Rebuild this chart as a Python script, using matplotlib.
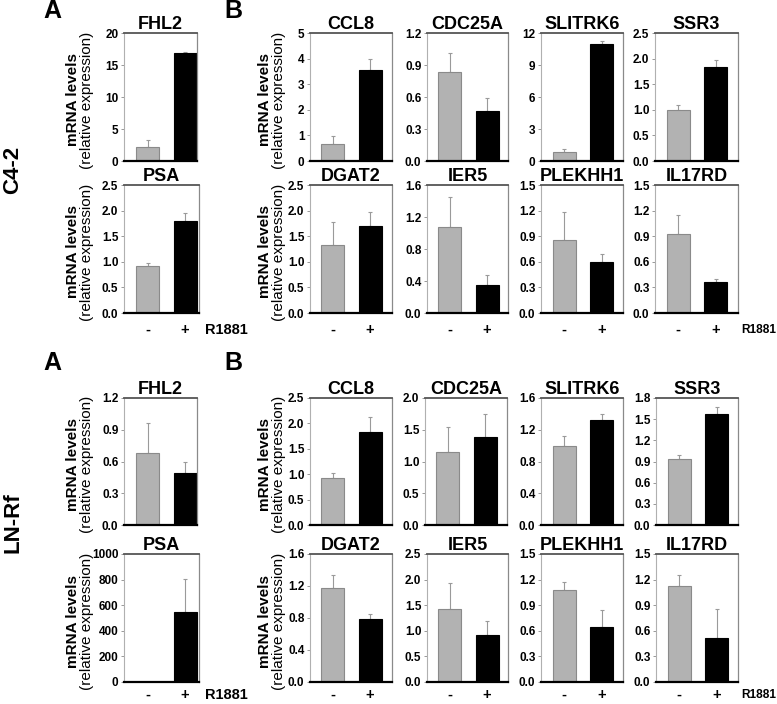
import matplotlib
matplotlib.use("Agg")
import matplotlib.pyplot as plt
from matplotlib.transforms import blended_transform_factory

plt.rcParams['font.family'] = ['Liberation Sans', 'DejaVu Sans']

W, H = 777, 704

# ---------------- data ----------------
genes_row1 = ["FHL2", "CCL8", "CDC25A", "SLITRK6", "SSR3"]
genes_row2 = ["PSA", "DGAT2", "IER5", "PLEKHH1", "IL17RD"]
conditions = ["-", "+"]
treatment_label = "R1881"

# C4-2 cells: means (control, R1881) and upper error
c42_ctrl = {"FHL2": 2.2, "CCL8": 0.68, "CDC25A": 0.83, "SLITRK6": 0.80, "SSR3": 0.99,
            "PSA": 0.91, "DGAT2": 1.32, "IER5": 1.07, "PLEKHH1": 0.85, "IL17RD": 0.925}
c42_r1881 = {"FHL2": 16.8, "CCL8": 3.56, "CDC25A": 0.47, "SLITRK6": 10.97, "SSR3": 1.84,
             "PSA": 1.79, "DGAT2": 1.69, "IER5": 0.355, "PLEKHH1": 0.60, "IL17RD": 0.362}
c42_ctrl_err = {"FHL2": 1.05, "CCL8": 0.30, "CDC25A": 0.18, "SLITRK6": 0.30, "SSR3": 0.10,
                "PSA": 0.07, "DGAT2": 0.45, "IER5": 0.38, "PLEKHH1": 0.33, "IL17RD": 0.225}
c42_r1881_err = {"FHL2": 0.30, "CCL8": 0.43, "CDC25A": 0.125, "SLITRK6": 0.30, "SSR3": 0.14,
                 "PSA": 0.16, "DGAT2": 0.29, "IER5": 0.12, "PLEKHH1": 0.09, "IL17RD": 0.035}

# LN-Rf cells
lnrf_ctrl = {"FHL2": 0.68, "CCL8": 0.93, "CDC25A": 1.15, "SLITRK6": 0.99, "SSR3": 0.93,
             "PSA": 0.0, "DGAT2": 1.175, "IER5": 1.43, "PLEKHH1": 1.08, "IL17RD": 1.125}
lnrf_r1881 = {"FHL2": 0.49, "CCL8": 1.84, "CDC25A": 1.38, "SLITRK6": 1.32, "SSR3": 1.57,
              "PSA": 547, "DGAT2": 0.79, "IER5": 0.92, "PLEKHH1": 0.645, "IL17RD": 0.51}
lnrf_ctrl_err = {"FHL2": 0.285, "CCL8": 0.09, "CDC25A": 0.39, "SLITRK6": 0.13, "SSR3": 0.06,
                 "PSA": 0.0, "DGAT2": 0.165, "IER5": 0.50, "PLEKHH1": 0.09, "IL17RD": 0.125}
lnrf_r1881_err = {"FHL2": 0.105, "CCL8": 0.28, "CDC25A": 0.37, "SLITRK6": 0.08, "SSR3": 0.10,
                  "PSA": 258, "DGAT2": 0.06, "IER5": 0.27, "PLEKHH1": 0.20, "IL17RD": 0.34}

# y-axis ticks: (max, step, decimals)
c42_yticks = {"FHL2": (20, 5, 0), "CCL8": (5, 1, 0), "CDC25A": (1.2, 0.3, 1), "SLITRK6": (12, 3, 0),
              "SSR3": (2.5, 0.5, 1), "PSA": (2.5, 0.5, 1), "DGAT2": (2.5, 0.5, 1), "IER5": (1.6, 0.4, 1),
              "PLEKHH1": (1.5, 0.3, 1), "IL17RD": (1.5, 0.3, 1)}
lnrf_yticks = {"FHL2": (1.2, 0.3, 1), "CCL8": (2.5, 0.5, 1), "CDC25A": (2.0, 0.5, 1), "SLITRK6": (1.6, 0.4, 1),
               "SSR3": (1.8, 0.3, 1), "PSA": (1000, 200, 0), "DGAT2": (1.6, 0.4, 1), "IER5": (2.5, 0.5, 1),
               "PLEKHH1": (1.5, 0.3, 1), "IL17RD": (1.5, 0.3, 1)}

# ---------------- layout (pixels) ----------------
row_tb = [(33, 161), (185, 313), (398, 525), (554, 682)]
cols = [
    [(124, 197), (310, 392), (427, 508), (541, 623), (655, 738)],
    [(124, 199), (310, 392), (427, 508), (541, 623), (655, 738)],
    [(124, 197), (310, 392), (425, 507), (541, 623), (656, 738)],
    [(124, 199), (310, 392), (427, 508), (541, 623), (656, 738)],
]
FIRST_BAR_OFF = [23.5, 22.5, 22.5, 23, 23]
SPACING = 37.5
BAR_PX = 23

fig = plt.figure(figsize=(W / 100, H / 100), dpi=100)


def px_axes(l, r, t, b):
    return fig.add_axes([l / W, 1 - b / H, (r - l) / W, (b - t) / H])


def draw_panel(ax, gene, ctrl, trt, ctrl_err, trt_err, ticks, off, width_px):
    x = [0, 1]
    vals = [ctrl[gene], trt[gene]]
    errs = [ctrl_err[gene], trt_err[gene]]
    bw = BAR_PX / SPACING
    ax.bar(x, vals, width=bw, color=["#b2b2b2", "#000000"],
           edgecolor=["#8a8a8a", "#000000"], linewidth=0.8, zorder=2)
    for xi, v, e in zip(x, vals, errs):
        if e > 0:
            ax.errorbar([xi], [v], yerr=[[0], [e]], fmt='none', ecolor="#9a9a9a",
                        elinewidth=0.8, capsize=1.5, capthick=0.8, zorder=1)
    ymax, step, dec = ticks
    n = int(round(ymax / step))
    tv = [i * step for i in range(n + 1)]
    ax.set_ylim(0, ymax)
    ax.set_yticks(tv)
    ax.set_yticklabels([f"{v:.{dec}f}" for v in tv], fontsize=8.5, fontweight='bold')
    ax.set_xlim(-off / SPACING, (width_px - off) / SPACING)
    ax.set_xticks([])
    ax.tick_params(axis='y', length=2, width=0.6, color="#888888", pad=2)
    ax.spines['top'].set_color("#555555")
    ax.spines['top'].set_linewidth(1.3)
    ax.spines['right'].set_color("#8a8a8a")
    ax.spines['right'].set_linewidth(0.9)
    ax.spines['left'].set_color("#b0b0b0")
    ax.spines['left'].set_linewidth(0.8)
    ax.spines['bottom'].set_color("#000000")
    ax.spines['bottom'].set_linewidth(1.6)
    ax.set_title(gene, fontsize=13, fontweight='bold', pad=2)


groups = [
    (0, genes_row1, c42_ctrl, c42_r1881, c42_ctrl_err, c42_r1881_err, c42_yticks),
    (1, genes_row2, c42_ctrl, c42_r1881, c42_ctrl_err, c42_r1881_err, c42_yticks),
    (2, genes_row1, lnrf_ctrl, lnrf_r1881, lnrf_ctrl_err, lnrf_r1881_err, lnrf_yticks),
    (3, genes_row2, lnrf_ctrl, lnrf_r1881, lnrf_ctrl_err, lnrf_r1881_err, lnrf_yticks),
]

for ri, genes, ctrl, trt, ce, te, yt in groups:
    t, b = row_tb[ri]
    for ci, gene in enumerate(genes):
        l, r = cols[ri][ci]
        ax = px_axes(l, r, t, b)
        off = FIRST_BAR_OFF[ci]
        draw_panel(ax, gene, ctrl, trt, ce, te, yt[gene], off, r - l)
        if ci in (0, 1):
            dx1, dx2 = (-51, -37) if ci == 0 else (-45, -31)
            yc = (t + b) / 2 + 3
            fig.text((l + dx1) / W, 1 - yc / H, "mRNA levels", rotation=90,
                     ha='center', va='center', fontsize=11, fontweight='bold')
            fig.text((l + dx2) / W, 1 - yc / H, "(relative expression)", rotation=90,
                     ha='center', va='center', fontsize=11)
        if ri in (1, 3):
            ylab = 330 if ri == 1 else 695
            tr = blended_transform_factory(ax.transData, fig.transFigure)
            for k, c in enumerate(conditions):
                ax.text(k, 1 - ylab / H, c, transform=tr, ha='center', va='center',
                        fontsize=10.5, fontweight='bold', clip_on=False)
            if ci == 0:
                fig.text(205 / W, 1 - ylab / H, treatment_label,
                         ha='left', va='center', fontsize=10.5, fontweight='bold')
            elif ci == 4:
                fig.text(741 / W, 1 - ylab / H, treatment_label,
                         ha='left', va='center', fontsize=8.6, fontweight='bold')

# panel letters
for y in (11, 363):
    fig.text(52 / W, 1 - y / H, "A", ha='center', va='center', fontsize=18, fontweight='bold')
    fig.text(233 / W, 1 - y / H, "B", ha='center', va='center', fontsize=18, fontweight='bold')

# cell line labels
fig.text(13 / W, 1 - 170 / H, "C4-2", rotation=90, ha='center', va='center', fontsize=16, fontweight='bold')
fig.text(13 / W, 1 - 523 / H, "LN-Rf", rotation=90, ha='center', va='center', fontsize=16, fontweight='bold')

fig.savefig("out.png", dpi=100)
